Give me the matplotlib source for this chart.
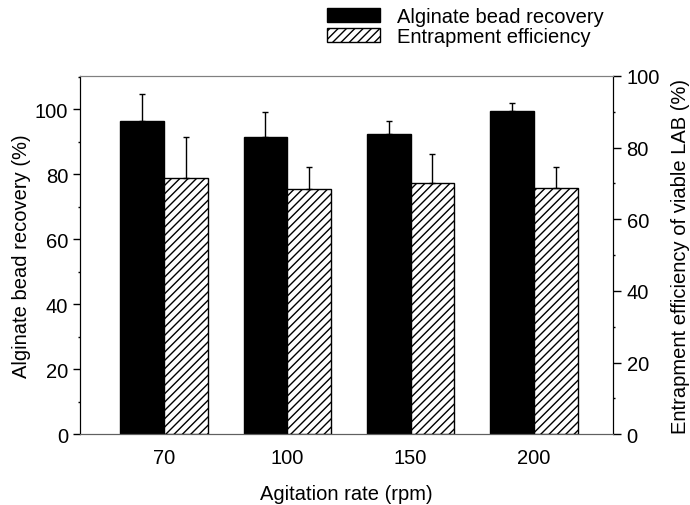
import numpy as np
import matplotlib
matplotlib.use("Agg")
import matplotlib.pyplot as plt
from matplotlib.ticker import MultipleLocator

plt.rcParams['font.family'] = ['Liberation Sans', 'DejaVu Sans']
plt.rcParams['font.size'] = 14.5
plt.rcParams['hatch.linewidth'] = 1.0

rates = ['70', '100', '150', '200']
recovery = [96.4, 91.3, 92.3, 99.5]
recovery_err = [8.2, 7.7, 4.1, 2.5]
efficiency = [71.4, 68.4, 70.2, 68.8]
efficiency_err = [11.6, 6.2, 7.9, 5.8]

x = np.arange(len(rates))
width = 0.355

fig = plt.figure(figsize=(6.9, 5.06), dpi=100)
ax = fig.add_axes([0.116, 0.140, 0.773, 0.708])
ax2 = ax.twinx()

b1 = ax.bar(x - width / 2, recovery, width, color='black', edgecolor='black',
            yerr=[np.zeros(4), recovery_err], capsize=2.5,
            error_kw=dict(ecolor='black', elinewidth=1.0, capthick=1.0),
            label='Alginate bead recovery')
b2 = ax2.bar(x + width / 2, efficiency, width, color='white', edgecolor='black',
             hatch='////', linewidth=1.0,
             yerr=[np.zeros(4), efficiency_err], capsize=2.5,
             error_kw=dict(ecolor='black', elinewidth=1.0, capthick=1.0),
             label='Entrapment efficiency')

ax.set_xlim(-0.681, 3.645)
ax.set_ylim(0, 110.2)
ax2.set_ylim(0, 100)

ax.set_xticks(x)
ax.set_xticklabels(rates)
ax.tick_params(axis='x', length=0, pad=10)
ax.yaxis.set_major_locator(MultipleLocator(20))
ax.yaxis.set_minor_locator(MultipleLocator(10))
ax2.yaxis.set_major_locator(MultipleLocator(20))
ax2.yaxis.set_minor_locator(MultipleLocator(10))
ax.tick_params(axis='y', which='major', length=5, width=1, direction='out')
ax.tick_params(axis='y', which='minor', length=1.5, width=1, direction='out')
ax2.tick_params(axis='y', which='major', length=6, width=1, direction='out')
ax2.tick_params(axis='y', which='minor', length=1.5, width=1, direction='out')

for a in (ax, ax2):
    a.spines['top'].set_color('#808080')
    a.spines['bottom'].set_color('#606060')
    a.spines['left'].set_color('black')
    a.spines['right'].set_color('black')

ax.set_xlabel('Agitation rate (rpm)', labelpad=12)
ax.set_ylabel('Alginate bead recovery (%)', labelpad=3)
ax2.set_ylabel('Entrapment efficiency of viable LAB (%)', labelpad=8)

fig.legend([b1, b2], ['Alginate bead recovery', 'Entrapment efficiency'],
           loc='upper left', bbox_to_anchor=(0.453, 1.012), frameon=False,
           handlelength=2.64, handleheight=0.75, handletextpad=0.85,
           labelspacing=0.05, borderpad=0.2)

fig.savefig('out.png', dpi=100)
